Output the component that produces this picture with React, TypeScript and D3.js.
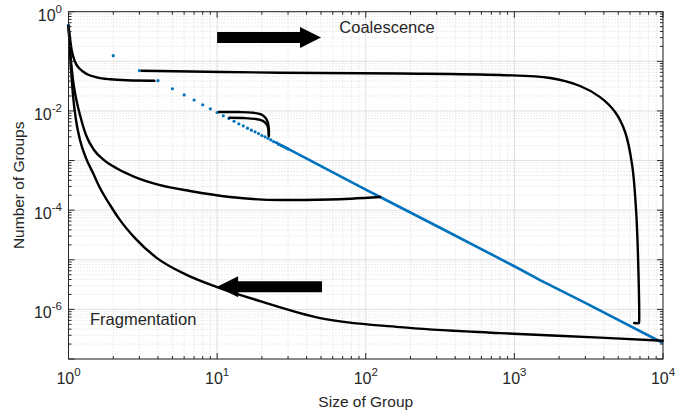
import React from "react";
import * as d3 from "d3";

// ---------- data ----------
const xTickExps = [0, 1, 2, 3, 4];
const yTickExps = [0, -2, -4, -6];

// blue discrete points (integer group sizes)
const blueDotX = [1, 2, 3, 4, 5, 6, 7, 8, 9, 10, 11, 12, 13, 14, 15, 16, 17, 18, 19, 20, 21, 22, 23, 24, 25, 26, 27, 28, 29, 30];
const blueDotY = [0.54, 0.13, 0.065, 0.0407, 0.028, 0.021, 0.0166, 0.0133, 0.011, 0.0093,
  0.0080, 0.0070, 0.0062, 0.0055, 0.0050, 0.0045, 0.0041, 0.0038, 0.0035, 0.0032,
  0.0030, 0.0028, 0.0026, 0.0024, 0.0023, 0.0021, 0.0020, 0.0019, 0.0018, 0.0017];
// blue dense part (reads as a solid line)
const blueLineX = [25, 50, 100, 125, 300, 1000, 1489, 3000, 10000];
const blueLineY = [0.0023, 7.7e-4, 2.6e-4, 1.84e-4, 4.8e-5, 7.4e-6, 3.9e-6, 1.35e-6, 2.1e-7];

// black trajectories
const curveA: [number, number][] = [
  [1, 0.515], [1.05, 0.169], [1.106, 0.098], [1.195, 0.07], [1.326, 0.0555],
  [1.55, 0.0476], [1.9, 0.0434], [2.46, 0.0414], [3.78, 0.0406]];
const curveB1: [number, number][] = [
  [10.3, 0.0095], [14, 0.0095], [17.5, 0.0092], [19.8, 0.0085], [21.2, 0.0072],
  [22.0, 0.0057], [22.3, 0.0042], [22.3, 0.0031]];
const curveB2: [number, number][] = [
  [12.1, 0.0073], [15, 0.0072], [18, 0.0069], [20.3, 0.0063], [21.6, 0.0053],
  [22.1, 0.0043], [22.2, 0.0033]];
const curveC: [number, number][] = [
  [1, 0.515], [1.031, 0.134], [1.072, 0.042], [1.123, 0.0182], [1.195, 8.27e-3],
  [1.311, 3.27e-3], [1.484, 1.63e-3], [1.734, 1.02e-3], [2.153, 6.74e-4], [2.803, 4.65e-4],
  [4.128, 3.2e-4], [6.57, 2.43e-4], [12.21, 1.84e-4], [26.5, 1.6e-4], [57.5, 1.64e-4],
  [125, 1.84e-4]];
const curveD: [number, number][] = [
  [1, 0.515], [1.031, 0.106], [1.072, 0.0209], [1.123, 6.55e-3], [1.195, 2.59e-3],
  [1.311, 1.12e-3], [1.462, 5.6e-4], [1.629, 2.79e-4], [1.903, 1.27e-4], [2.222, 6.3e-5],
  [2.803, 2.73e-5], [3.94, 1.08e-5], [6.08, 5.15e-6], [9.98, 2.82e-6], [19.45, 1.47e-6],
  [49.3, 6.68e-7], [170, 4.4e-7], [801, 3.33e-7], [3775, 2.7e-7], [10000, 2.33e-7]];
const curveE: [number, number][] = [
  [3.11, 0.0646], [26.5, 0.059], [170, 0.0568], [801, 0.053], [1740, 0.046],
  [2766, 0.0318], [3773, 0.019], [4760, 0.0095], [5560, 0.00376], [6200, 8.1e-4],
  [6590, 1e-4], [6800, 1e-5], [6900, 5.5e-7], [6880, 5.3e-7], [6400, 5.3e-7]];

// annotations (data coords)
const arrowRight = { x0: 10, x1: 50, y: 0.302 };
const arrowLeft = { x0: 50.8, x1: 10, y: 2.86e-6 };

// ---------- layout ----------
const W = 675, H = 419;
const L = 68.5, R = 663, T = 11.7, B = 359;
const FONT = "Liberation Sans, Arial, Helvetica, sans-serif";
const TXT = "#262626";

export default function App() {
  const x = d3.scaleLog().domain([1, 1e4]).range([L, R]);
  const y = d3.scaleLog().domain([1e-7, 1]).range([B, T]);

  const smooth = d3.line<[number, number]>()
    .x((d) => x(d[0]))
    .y((d) => y(d[1]))
    .curve(d3.curveCatmullRom.alpha(0.5));
  const mono = d3.line<[number, number]>()
    .x((d) => x(d[0]))
    .y((d) => y(d[1]))
    .curve(d3.curveMonotoneX);
  const straight = d3.line<[number, number]>().x((d) => x(d[0])).y((d) => y(d[1]));

  const xMinor: number[] = [];
  for (let e = 0; e < 4; e++) for (let k = 2; k <= 9; k++) xMinor.push(k * Math.pow(10, e));
  const yMinor: number[] = [];
  for (let e = -7; e < 0; e++) for (let k = 2; k <= 9; k++) yMinor.push(k * Math.pow(10, e));
  const xMajor = d3.range(0, 5).map((e) => Math.pow(10, e));
  const yMajor = d3.range(-7, 1).map((e) => Math.pow(10, e));

  const arrow = (x0: number, x1: number, yv: number) => {
    const a = x(x0), b = x(x1), cy = y(yv);
    const dir = b > a ? 1 : -1;
    const head = 21, hh = 10.5, sh = 5.4;
    const hb = b - dir * head;
    const pts = [
      [a, cy - sh], [hb, cy - sh], [hb, cy - hh], [b, cy], [hb, cy + hh], [hb, cy + sh], [a, cy + sh],
    ];
    return pts.map((p) => p.join(",")).join(" ");
  };

  const tickMaj = 6, tickMin = 3;

  return (
    <svg width={W} height={H} style={{ position: "absolute", left: 0, top: 0, background: "#fff" }}
      fontFamily={FONT}>
      <rect x={0} y={0} width={W} height={H} fill="#fff" />
      <g stroke="#d4d4d4" strokeWidth={0.8} strokeDasharray="1,2">
        {xMinor.map((v) => <line key={"xm" + v} x1={x(v)} x2={x(v)} y1={T} y2={B} />)}
        {yMinor.map((v) => <line key={"ym" + v} y1={y(v)} y2={y(v)} x1={L} x2={R} />)}
      </g>
      <g stroke="#dfdfdf" strokeWidth={1}>
        {xMajor.map((v) => <line key={"xM" + v} x1={x(v)} x2={x(v)} y1={T} y2={B} />)}
        {yMajor.map((v) => <line key={"yM" + v} y1={y(v)} y2={y(v)} x1={L} x2={R} />)}
      </g>

      <path d={straight(blueLineX.map((v, i) => [v, blueLineY[i]]) as [number, number][]) || ""}
        fill="none" stroke="#0072BD" strokeWidth={2.6} />
      {blueDotX.map((v, i) => (
        <circle key={"bd" + v} cx={x(v)} cy={y(blueDotY[i])} r={1.6} fill="#0072BD" />
      ))}

      <g fill="none" stroke="#000" strokeWidth={2.4} strokeLinejoin="round" strokeLinecap="round">
        <path d={mono(curveA) || ""} />
        <path d={mono(curveC) || ""} />
        <path d={mono(curveD) || ""} />
        <path d={smooth(curveB1) || ""} />
        <path d={smooth(curveB2) || ""} />
        <path d={smooth(curveE) || ""} />
      </g>

      <polygon points={arrow(arrowRight.x0, arrowRight.x1, arrowRight.y)} fill="#000" />
      <polygon points={arrow(arrowLeft.x0, arrowLeft.x1, arrowLeft.y)} fill="#000" />

      <text x={339.3} y={33.3} fontSize={16.5} fill={TXT}>Coalescence</text>
      <text x={90} y={325} fontSize={16.5} fill={TXT}>Fragmentation</text>

      <g stroke="#262626" strokeWidth={1} fill="none">
        <rect x={L} y={T} width={R - L} height={B - T} />
        {xMajor.map((v) => (
          <g key={"xt" + v}>
            <line x1={x(v)} x2={x(v)} y1={B} y2={B - tickMaj} />
            <line x1={x(v)} x2={x(v)} y1={T} y2={T + tickMaj} />
          </g>
        ))}
        {xMinor.map((v) => (
          <g key={"xtm" + v}>
            <line x1={x(v)} x2={x(v)} y1={B} y2={B - tickMin} />
            <line x1={x(v)} x2={x(v)} y1={T} y2={T + tickMin} />
          </g>
        ))}
        {yMajor.map((v) => (
          <g key={"yt" + v}>
            <line y1={y(v)} y2={y(v)} x1={L} x2={L + tickMaj} />
            <line y1={y(v)} y2={y(v)} x1={R} x2={R - tickMaj} />
          </g>
        ))}
        {yMinor.map((v) => (
          <g key={"ytm" + v}>
            <line y1={y(v)} y2={y(v)} x1={L} x2={L + tickMin} />
            <line y1={y(v)} y2={y(v)} x1={R} x2={R - tickMin} />
          </g>
        ))}
      </g>

      <g fill={TXT}>
        {xTickExps.map((e) => (
          <text key={"xl" + e} x={x(Math.pow(10, e))} y={B + 25} textAnchor="middle" fontSize={16}>
            <tspan>10</tspan>
            <tspan dy={-8} fontSize={11.5}>{String(e)}</tspan>
          </text>
        ))}
        {yTickExps.map((e) => (
          <text key={"yl" + e} x={62} y={y(Math.pow(10, e)) + 9} textAnchor="end" fontSize={16}>
            <tspan>10</tspan>
            <tspan dy={-8} fontSize={11.5}>{String(e)}</tspan>
          </text>
        ))}
      </g>

      <text x={(L + R) / 2} y={407} textAnchor="middle" fontSize={15.5} fill={TXT}>Size of Group</text>
      <text transform={`translate(24,${(T + B) / 2}) rotate(-90)`} textAnchor="middle" fontSize={15.5}
        fill={TXT}>Number of Groups</text>
    </svg>
  );
}
